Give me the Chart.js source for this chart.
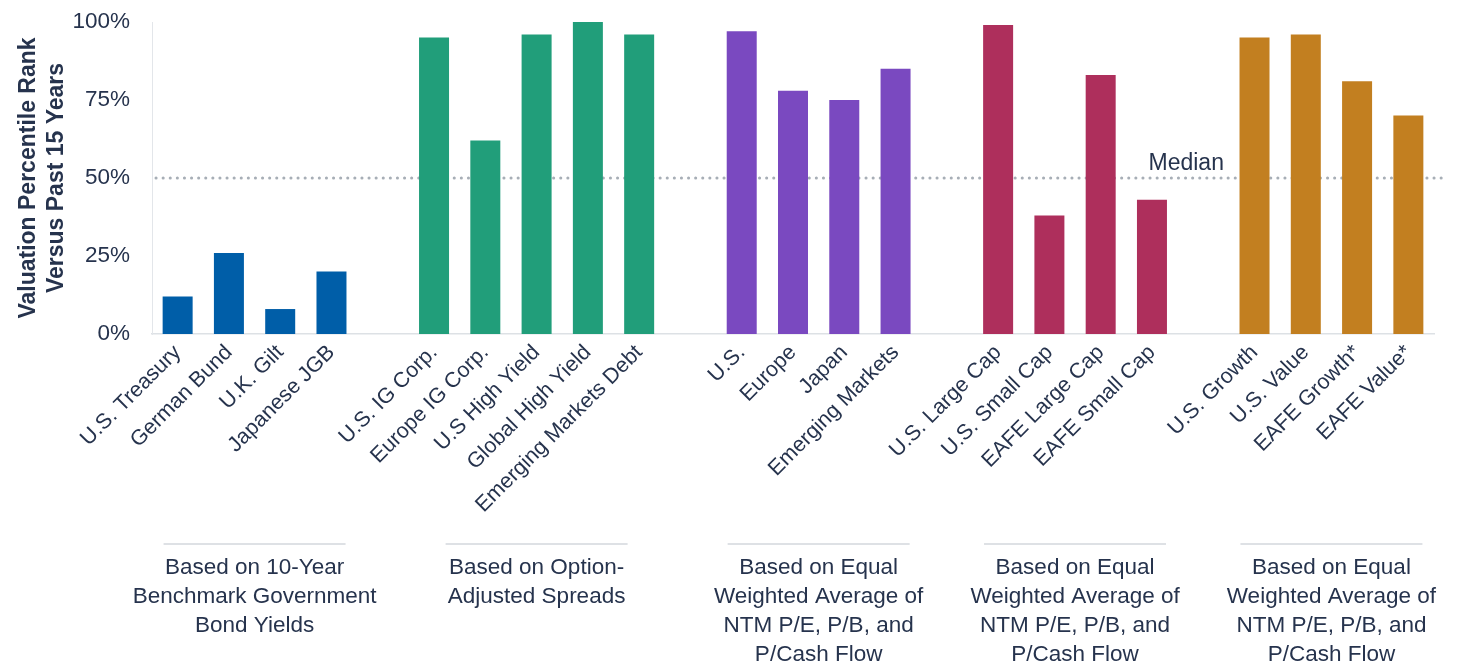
<!DOCTYPE html>
<html>
<head>
<meta charset="utf-8">
<script src="https://cdn.jsdelivr.net/npm/chart.js@4.4.1/dist/chart.umd.min.js"></script>
<style>
  html, body { margin: 0; padding: 0; background: #ffffff; }
  #wrap { width: 1460px; height: 664px; position: relative; }
</style>
</head>
<body>
<div id="wrap"><canvas id="chart"></canvas></div>
<script>
// Valuation percentile ranks (0-100) by asset class
const bondCategories = ['U.S. Treasury', 'German Bund', 'U.K. Gilt', 'Japanese JGB'];
const bondValues = [12, 26, 8, 20];

const creditCategories = ['U.S. IG Corp.', 'Europe IG Corp.', 'U.S High Yield', 'Global High Yield', 'Emerging Markets Debt'];
const creditValues = [95, 62, 96, 100, 96];

const regionCategories = ['U.S.', 'Europe', 'Japan', 'Emerging Markets'];
const regionValues = [97, 78, 75, 85];

const sizeCategories = ['U.S. Large Cap', 'U.S. Small Cap', 'EAFE Large Cap', 'EAFE Small Cap'];
const sizeValues = [99, 38, 83, 43];

const styleCategories = ['U.S. Growth', 'U.S. Value', 'EAFE Growth*', 'EAFE Value*'];
const styleValues = [95, 96, 81, 70];

const groupNotes = [
  ['Based on 10-Year', 'Benchmark Government', 'Bond Yields'],
  ['Based on Option-', 'Adjusted Spreads'],
  ['Based on Equal', 'Weighted Average of', 'NTM P/E, P/B, and', 'P/Cash Flow'],
  ['Based on Equal', 'Weighted Average of', 'NTM P/E, P/B, and', 'P/Cash Flow'],
  ['Based on Equal', 'Weighted Average of', 'NTM P/E, P/B, and', 'P/Cash Flow']
];

const yTickValues = [0, 25, 50, 75, 100];
const medianValue = 50;
const medianLabel = 'Median';
const yTitleLines = ['Valuation Percentile Rank', 'Versus Past 15 Years'];

const groupColors = ['#005ea8', '#219e7a', '#7a49c0', '#ae2f5c', '#c27f20'];
const TEXT = '#26334d';
const FONT = "'Liberation Sans', Arial, sans-serif";

const groups = [
  { cats: bondCategories, vals: bondValues },
  { cats: creditCategories, vals: creditValues },
  { cats: regionCategories, vals: regionValues },
  { cats: sizeCategories, vals: sizeValues },
  { cats: styleCategories, vals: styleValues }
];

// Flatten groups into one category axis with an empty slot between groups
const labels = [], values = [], colors = [], groupSpans = [];
groups.forEach((g, gi) => {
  if (gi > 0) { labels.push(''); values.push(null); colors.push('rgba(0,0,0,0)'); }
  const start = labels.length;
  g.cats.forEach((c, i) => { labels.push(c); values.push(g.vals[i]); colors.push(groupColors[gi]); });
  groupSpans.push({ start, end: labels.length - 1, lines: groupNotes[gi] });
});

const overlay = {
  id: 'overlay',
  beforeDatasetsDraw(chart) {
    const { ctx, chartArea, scales } = chart;
    const y = scales.y.getPixelForValue(medianValue);
    ctx.save();
    ctx.strokeStyle = '#a7aeb6';
    ctx.lineWidth = 3;
    ctx.lineCap = 'round';
    ctx.setLineDash([0.1, 7]);
    ctx.beginPath();
    ctx.moveTo(chartArea.left + 4, y);
    ctx.lineTo(chartArea.right + 11, y);
    ctx.stroke();
    ctx.restore();
  },
  afterDraw(chart) {
    const { ctx, scales } = chart;
    const x = scales.x;
    ctx.save();
    // median caption
    const my = scales.y.getPixelForValue(medianValue);
    const spacer = groupSpans[4].start - 1;
    ctx.fillStyle = TEXT;
    ctx.font = '23px ' + FONT;
    ctx.textAlign = 'center';
    ctx.textBaseline = 'alphabetic';
    ctx.fillText(medianLabel, x.getPixelForValue(spacer) - 17, my - 8);

    // group separators and notes
    groupSpans.forEach(s => {
      const cx = (x.getPixelForValue(s.start) + x.getPixelForValue(s.end)) / 2;
      ctx.strokeStyle = '#d3d7dc';
      ctx.lineWidth = 1.5;
      ctx.setLineDash([]);
      ctx.beginPath();
      ctx.moveTo(cx - 91, 544);
      ctx.lineTo(cx + 91, 544);
      ctx.stroke();
      ctx.fillStyle = TEXT;
      ctx.font = '22.5px ' + FONT;
      ctx.textAlign = 'center';
      ctx.textBaseline = 'middle';
      s.lines.forEach((ln, i) => ctx.fillText(ln, cx, 568 + i * 29));
    });
    ctx.restore();
  }
};

new Chart(document.getElementById('chart'), {
  type: 'bar',
  data: {
    labels,
    datasets: [{
      data: values,
      backgroundColor: colors,
      borderWidth: 0,
      categoryPercentage: 1,
      barPercentage: 0.585
    }]
  },
  options: {
    responsive: true,
    maintainAspectRatio: false,
    animation: false,
    layout: { padding: { left: 0, right: 26, top: 22, bottom: 0 } },
    plugins: { legend: { display: false }, tooltip: { enabled: false } },
    scales: {
      x: {
        grid: { display: false, drawTicks: false },
        border: { display: true, color: '#dde1e5', width: 1.5 },
        ticks: {
          autoSkip: false,
          minRotation: 45,
          maxRotation: 45,
          padding: 6,
          color: TEXT,
          font: { size: 21.5, family: FONT }
        },
        afterFit(scale) { scale.height = 330; }
      },
      y: {
        min: 0,
        max: 100,
        afterBuildTicks(scale) { scale.ticks = yTickValues.map(v => ({ value: v })); },
        grid: { display: false, drawTicks: false },
        border: { display: true, color: '#e3e6ea', width: 1 },
        ticks: {
          padding: 22,
          color: TEXT,
          font: { size: 22.5, family: FONT },
          callback: v => v + '%'
        },
        title: {
          display: true,
          text: yTitleLines,
          color: TEXT,
          font: { size: 23, weight: 'bold', family: FONT, lineHeight: 1.2 },
          padding: { top: 15, bottom: 0 }
        },
        afterFit(scale) {
          scale.width = 152;
          scale.paddingTop = 0;
          scale.paddingBottom = 0;
        }
      }
    }
  },
  plugins: [overlay]
});
</script>
</body>
</html>
